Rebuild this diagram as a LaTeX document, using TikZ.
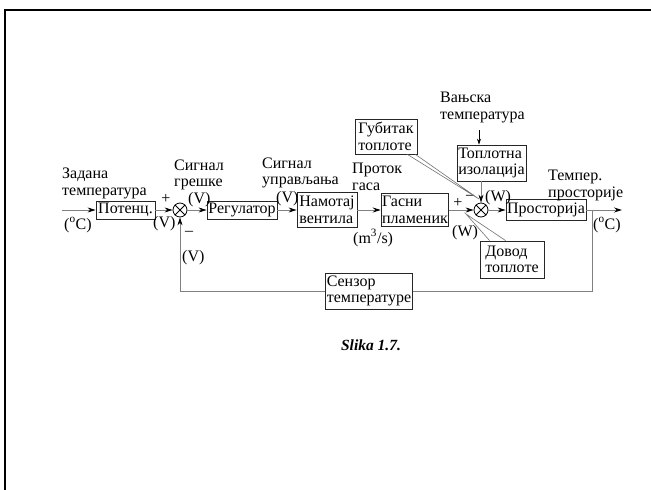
\documentclass[tikz,border=0pt]{standalone}
\usepackage{fontspec}
\setmainfont{Liberation Serif}
\usetikzlibrary{arrows.meta}
\begin{document}
\begin{tikzpicture}[x=1pt,y=-1pt,
  every node/.style={font=\fontsize{16}{16.5}\selectfont, inner sep=0pt},
  blk/.style={draw=black!85, line width=0.8pt, align=left, inner sep=1pt},
  lbl/.style={align=left, anchor=base west},
  sumj/.style={draw=black, line width=0.8pt, circle, minimum size=14pt},
  conn/.style={draw=black!50, line width=0.9pt},
  arr/.style={conn, -{Stealth[length=8pt,width=5pt,black]}},
  arrs/.style={draw=black, line width=0.6pt, -{Stealth[length=6pt,width=4pt,black]}},
  wedge/.style={draw=black!55, line width=0.6pt}
]
\useasboundingbox (0,0) rectangle (651,490);
\draw[line width=2.5pt] (5,490) -- (5,10) -- (651,10);

% blocks
\node[blk, minimum width=59pt, minimum height=18pt] (pot) at (125.5,210) {Потенц.};
\node[blk, minimum width=70pt, minimum height=18pt] (reg) at (242,210) {Регулатор};
\node[blk, minimum width=60pt, minimum height=35pt] (nam) at (327,210) {Намотај\\вентила};
\node[blk, minimum width=66pt, minimum height=33pt] (gas) at (415,210) {Гасни\\пламеник};
\node[blk, minimum width=80pt, minimum height=21pt] (prost) at (546,210) {Просторија};
\node[blk, minimum width=69pt, minimum height=36pt] (topl) at (491.5,163) {Топлотна\\изолација};
\node[blk, minimum width=62pt, minimum height=35pt] (gub) at (386,136.5) {Губитак\\топлоте};
\node[blk, minimum width=64pt, minimum height=37pt] (dov) at (512,259.5) {Довод\\топлоте};
\node[blk, minimum width=86pt, minimum height=36pt] (sen) at (369,291) {Сензор\\температуре};

% summing junctions
\node[sumj] (s1) at (180,210) {};
\draw[line width=0.8pt] (s1.north west) -- (s1.south east) (s1.north east) -- (s1.south west);
\node[sumj] (s2) at (481,210) {};
\draw[line width=0.8pt] (s2.north west) -- (s2.south east) (s2.north east) -- (s2.south west);

% labels
\node[lbl] (zad) at (62,195) {Задана\\температура};
\node[lbl] (c1) at (64,229) {(\textsuperscript{o}C)};
\node (p1) at (166,199) {+};
\node[lbl] (v1) at (153,227) {(V)};
\node[lbl] (sg1) at (174,186.5) {Сигнал\\грешке};
\node[lbl] (v2) at (188,203) {(V)};
\node (m1) at (189,233) {--};
\node[lbl] (v3) at (182,261) {(V)};
\node[lbl] (sg2) at (262,184.5) {Сигнал\\управљања};
\node[lbl] (v4) at (276,202) {(V)};
\node[lbl] (prot) at (352,190) {Проток\\гаса};
\node[lbl] (m3s) at (353,243) {(m\textsuperscript{3}/s)};
\node (p2) at (458,203) {+};
\node (m2) at (470,197) {--};
\node[lbl] (w1) at (485,201) {(W)};
\node[lbl] (w2) at (452,236) {(W)};
\node[lbl] (van) at (440,119) {Вањска\\температура};
\node[lbl] (tmp) at (548,197) {Темпер.\\просторије};
\node[lbl] (c2) at (593,229) {(\textsuperscript{o}C)};
\node[anchor=base, font=\fontsize{15.5}{16}\selectfont\bfseries\itshape] (slika) at (371,350) {Slika 1.7.};

% connectors
\coordinate (in) at (62,210);
\coordinate (out) at (622,210);
\coordinate (fb) at (592,210);
\coordinate (vt) at (479,130);
\draw[arr] (in) -- (pot.west);
\draw[arr] (pot.east) -- (s1.west);
\draw[arr] (s1.east) -- (reg.west);
\draw[arr] (reg.east) -- (nam.west);
\draw[arr] (nam.east) -- (gas.west);
\draw[arr] (gas.east) -- (s2.west);
\draw[arr] (s2.east) -- (prost.west);
\draw[arr] (prost.east) -- (out);
\draw[conn] (fb) |- (sen.east);
\draw[arr] (sen.west) -| (s1.south);
\draw[arrs] (vt) -- (vt |- topl.north);
\draw[arr] (topl.south -| s2) -- (s2.north);

% callout pointers
\coordinate (gtip) at (479,199);
\coordinate (dtip) at (466,214);
\draw[wedge] ([xshift=-10pt]gub.south east) -- (gtip) -- ([xshift=-2pt]gub.south east);
\draw[wedge] ([xshift=10pt]dov.north west) -- (dtip) -- ([xshift=26pt]dov.north west);
\end{tikzpicture}
\end{document}
